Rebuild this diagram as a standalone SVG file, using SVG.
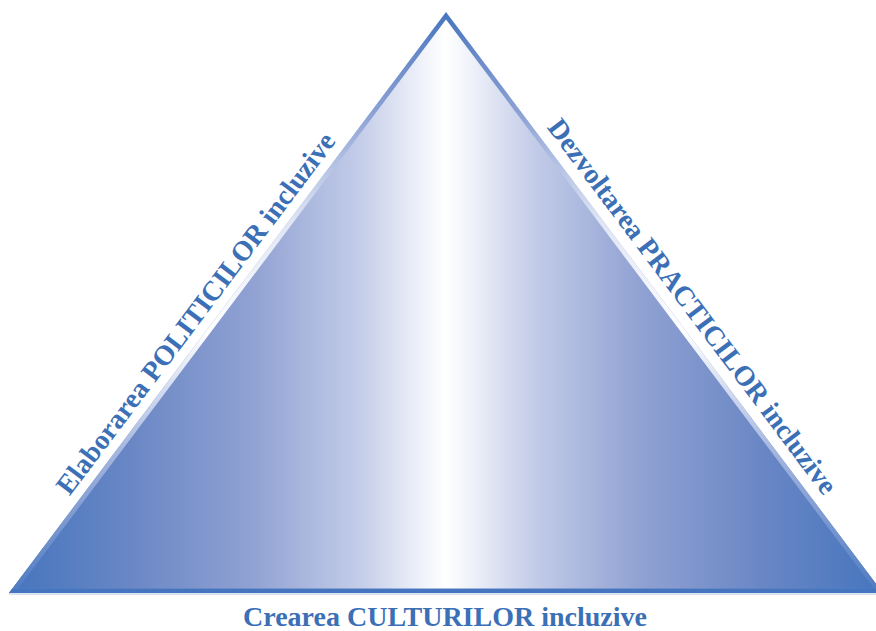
<svg xmlns="http://www.w3.org/2000/svg" width="876" height="631" viewBox="0 0 876 631">
  <defs>
    <linearGradient id="fillGrad" gradientUnits="userSpaceOnUse" x1="9" y1="0" x2="883" y2="0">
      <stop offset="0" stop-color="#4575be"/>
      <stop offset="0.14" stop-color="#6a87c5"/>
      <stop offset="0.28" stop-color="#91a2d3"/>
      <stop offset="0.40" stop-color="#c3cce8"/>
      <stop offset="0.47" stop-color="#eef1f9"/>
      <stop offset="0.5" stop-color="#ffffff"/>
      <stop offset="0.53" stop-color="#eef1f9"/>
      <stop offset="0.60" stop-color="#c3cce8"/>
      <stop offset="0.72" stop-color="#91a2d3"/>
      <stop offset="0.86" stop-color="#6a87c5"/>
      <stop offset="1" stop-color="#4575be"/>
    </linearGradient>
    <linearGradient id="edgeGrad" gradientUnits="userSpaceOnUse" x1="0" y1="12" x2="0" y2="593">
      <stop offset="0" stop-color="#4575be"/>
      <stop offset="0.08" stop-color="#6a8bc9"/>
      <stop offset="0.18" stop-color="#8ea3d5"/>
      <stop offset="0.36" stop-color="#dfe5f4"/>
      <stop offset="0.55" stop-color="#ffffff"/>
      <stop offset="0.75" stop-color="#a7b8e0"/>
      <stop offset="1" stop-color="#4f7bc0"/>
    </linearGradient>
    <clipPath id="triClip">
      <polygon points="446,12 9,593 883,593"/>
    </clipPath>
  </defs>
  <style>
    .lbl { font-family: "Liberation Serif", "Times New Roman", serif; font-weight: bold; font-size: 28px; fill: #3b6fb6; text-anchor: middle; }
  </style>
  <g id="triangle">
    <polygon points="446,12 9,593 883,593" fill="url(#fillGrad)"/>
    <polygon points="446,12 9,593 883,593" fill="none" stroke="url(#edgeGrad)" stroke-width="9" clip-path="url(#triClip)"/>
    <line x1="0" y1="591" x2="876" y2="591" stroke="#4575be" stroke-width="4" clip-path="url(#triClip)"/>
    <line x1="9" y1="594" x2="876" y2="594" stroke="#b8c8e6" stroke-width="1"/>
  </g>
  <g id="label-left">
    <text class="lbl" transform="translate(203,319) rotate(-53.07)" x="0" y="0">Elaborarea POLITICILOR incluzive</text>
  </g>
  <g id="label-right">
    <text class="lbl" transform="translate(685,312) rotate(53.07)" x="0" y="0">Dezvoltarea PRACTICILOR incluzive</text>
  </g>
  <g id="label-bottom">
    <text class="lbl" x="445" y="626">Crearea CULTURILOR incluzive</text>
  </g>
  <g id="connectors"/>
</svg>
